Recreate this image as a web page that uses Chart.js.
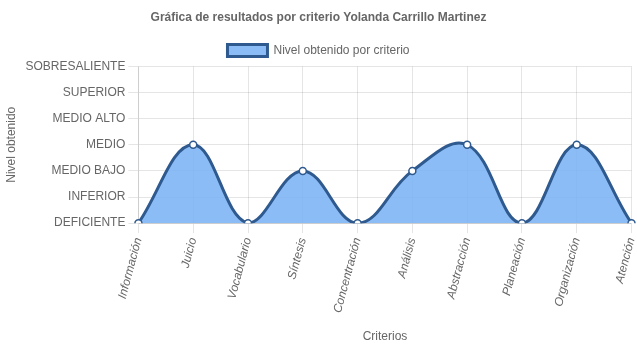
<!DOCTYPE html>
<html>
<head>
<meta charset="utf-8">
<script src="https://cdn.jsdelivr.net/npm/chart.js@4"></script>
<style>
html,body{margin:0;padding:0;background:#fff;}
#wrap{width:637px;height:348px;}
</style>
</head>
<body>
<div id="wrap"><canvas id="c" width="637" height="348"></canvas></div>
<script>
const categories = ["Información","Juicio","Vocabulario","Síntesis","Concentración","Análisis","Abstracción","Planeación","Organización","Atención"];
const levelLabels = ["DEFICIENTE","INFERIOR","MEDIO BAJO","MEDIO","MEDIO ALTO","SUPERIOR","SOBRESALIENTE"];
const values = [0,3,0,2,0,2,3,0,3,0];
const seriesName = "Nivel obtenido por criterio";

Chart.defaults.font.family = "'Liberation Sans', Arial, Helvetica, sans-serif";
Chart.defaults.font.size = 12;
Chart.defaults.color = "#666";

new Chart(document.getElementById('c'), {
  type: 'line',
  data: {
    labels: categories,
    datasets: [{
      label: seriesName,
      data: values,
      fill: true,
      backgroundColor: 'rgba(120,176,245,0.85)',
      borderColor: '#2f5a8f',
      borderWidth: 3,
      tension: 0.4,
      pointRadius: 3.5,
      pointBackgroundColor: '#fff',
      pointBorderColor: '#2f5a8f',
      pointBorderWidth: 1.5
    }]
  },
  options: {
    responsive: false,
    animation: false,
    layout: {padding: {left: 0, right: 0, top: 0, bottom: 0}},
    plugins: {
      title: {display: true, text: 'Gráfica de resultados por criterio Yolanda Carrillo Martinez', font: {size: 12, weight: 'bold'}, color: '#666', padding: {top: 10, bottom: 10}},
      legend: {display: true, labels: {boxWidth: 40, boxHeight: 12, color: '#666'}},
      tooltip: {enabled: false}
    },
    scales: {
      x: {
        title: {display: true, text: 'Criterios', color: '#666', padding: {top: 12}},
        grid: {color: 'rgba(0,0,0,0.1)', tickLength: 10},
        ticks: {font: {style: 'italic'}, maxRotation: 80, minRotation: 75, color: '#666'},
        afterFit: s => { s.paddingRight = 2; }
      },
      y: {
        min: 0, max: 6,
        title: {display: true, text: 'Nivel obtenido', color: '#666'},
        grid: {color: 'rgba(0,0,0,0.1)', tickLength: 10},
        ticks: {stepSize: 1, color: '#666', callback: v => levelLabels[v]}
      }
    }
  }
});
</script>
</body>
</html>
